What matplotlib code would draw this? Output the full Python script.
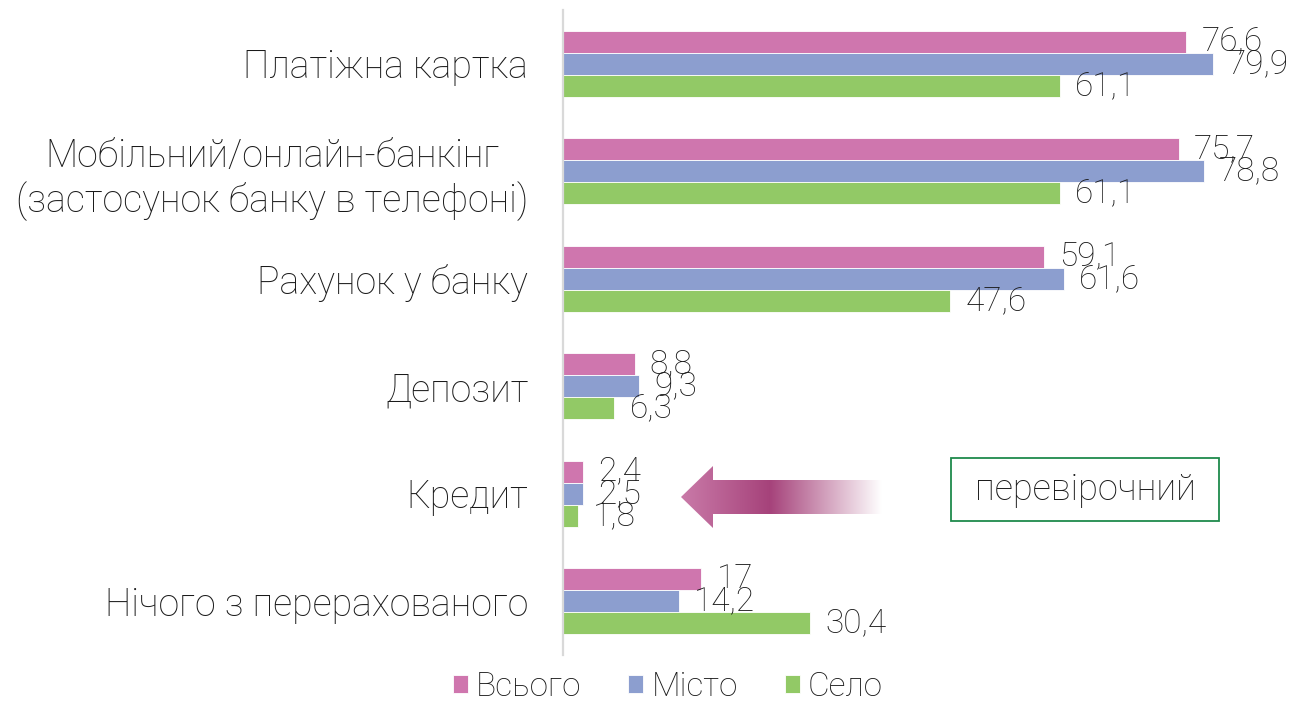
import numpy as np
import matplotlib

matplotlib.use("Agg")
import matplotlib.pyplot as plt
from matplotlib.patches import Polygon, Rectangle

plt.rcParams["font.family"] = ["Roboto", "DejaVu Sans"]
plt.rcParams["font.weight"] = "light"

# дані
categories = [
    "Платіжна картка",
    "Мобільний/онлайн-банкінг\n(застосунок банку в телефоні)",
    "Рахунок у банку",
    "Депозит",
    "Кредит",
    "Нічого з перерахованого",
]
series_names = ["Всього", "Місто", "Село"]
vsogo = [76.6, 75.7, 59.1, 8.8, 2.4, 17]
misto = [79.9, 78.8, 61.6, 9.3, 2.5, 14.2]
selo = [61.1, 61.1, 47.6, 6.3, 1.8, 30.4]
colors = ["#cf76ae", "#8c9ecf", "#92c966"]

W, H = 1291, 701
fig = plt.figure(figsize=(W / 100, H / 100), dpi=100)
ax = fig.add_axes([563 / W, 1 - 655 / H, 1 - 563 / W, 645 / H])

y = np.arange(len(categories))
bh = 0.205
bars = []
for k, (vals, col) in enumerate(zip([vsogo, misto, selo], colors)):
    pos = y + (k - 1) * bh
    b = ax.barh(pos, vals, height=bh, color=col, edgecolor="white", linewidth=0.6,
                label=series_names[k])
    bars.append(b)
    for p, v in zip(pos, vals):
        txt = f"{v:g}".replace(".", ",")
        ax.annotate(txt, (v, p), xytext=(11, 0), textcoords="offset points",
                    ha="left", va="center", fontsize=24, color="#1a1a1a")

ax.set_ylim(len(categories) - 0.5, -0.5)
ax.set_xlim(0, 89.5)
ax.set_yticks(y)
ax.set_yticklabels(categories, fontsize=27, multialignment="center", color="#1a1a1a")
ax.tick_params(axis="y", length=0, pad=25)
ax.set_xticks([])
for s in ["top", "right", "bottom"]:
    ax.spines[s].set_visible(False)
ax.spines["left"].set_color("#d9d9d9")
ax.spines["left"].set_linewidth(1.6)

# накладка в пікселях фігури: стрілка і рамка
ov = fig.add_axes([0, 0, 1, 1], zorder=5)
ov.set_xlim(0, W)
ov.set_ylim(H, 0)
ov.axis("off")
ov.patch.set_alpha(0)

arrow_pts = [(681, 497), (713, 466), (713, 480), (882, 480), (882, 514),
             (713, 514), (713, 528)]
arrow = Polygon(arrow_pts, closed=True, facecolor="none", edgecolor="none")
ov.add_patch(arrow)
xs = np.linspace(681, 882, 300)
c_left = np.array([0.79, 0.48, 0.66])
c_mid = np.array([0.65, 0.26, 0.48])
c_right = np.array([1.0, 1.0, 1.0])
t_mid = (770 - 681) / (882 - 681)
grad = np.zeros((1, len(xs), 3))
for i, x in enumerate(xs):
    t = (x - 681) / (882 - 681)
    if t < t_mid:
        grad[0, i] = c_left + (c_mid - c_left) * (t / t_mid)
    else:
        grad[0, i] = c_mid + (c_right - c_mid) * ((t - t_mid) / (1 - t_mid))
im = ov.imshow(grad, extent=[681, 882, 528, 466], aspect="auto", interpolation="bilinear")
im.set_clip_path(arrow)

ov.add_patch(Rectangle((951, 458), 268, 63, facecolor="white", edgecolor="#1f8a4c",
                       linewidth=1.3))
ov.text(1085, 490, "перевірочний", ha="center", va="center", fontsize=26, color="#1a1a1a")

fig.legend(handles=bars, labels=series_names, loc="center", bbox_to_anchor=(668 / W, 1 - 687 / H),
           ncol=3, frameon=False, fontsize=24, handlelength=0.45, handleheight=0.45,
           handletextpad=0.25, columnspacing=1.4, labelcolor="#1a1a1a", borderpad=0.05)

fig.savefig("out.png", dpi=100)
